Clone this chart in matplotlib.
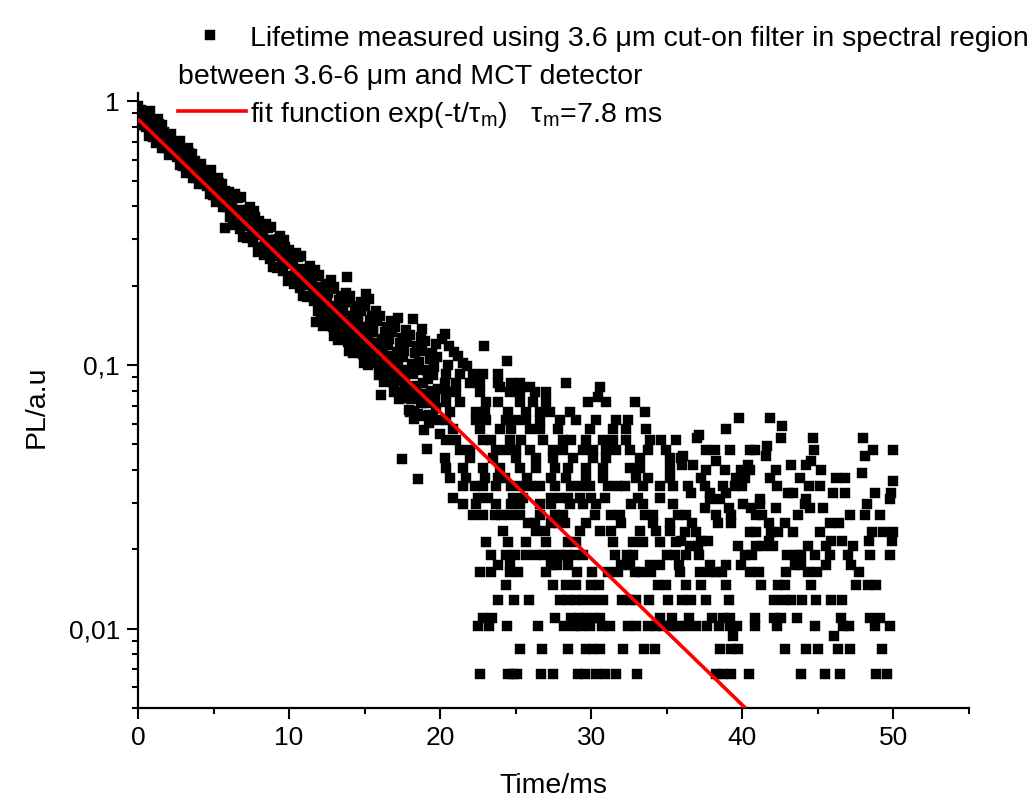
import matplotlib
matplotlib.use("Agg")
import matplotlib.pyplot as plt
from matplotlib.lines import Line2D
from matplotlib.ticker import FixedLocator, LogLocator, NullFormatter

plt.rcParams['font.family'] = ['Liberation Sans', 'DejaVu Sans']

# dense part of the decay, 0-20 ms
band_t = [0.00, 0.12, 0.25, 0.38, 0.50, 0.62, 0.75, 0.88,
          1.00, 1.12, 1.25, 1.38, 1.50, 1.62, 1.75, 1.88,
          2.00, 2.12, 2.25, 2.38, 2.50, 2.62, 2.75, 2.88,
          3.00, 3.12, 3.25, 3.38, 3.50, 3.62, 3.75, 3.88,
          4.00, 4.12, 4.25, 4.38, 4.50, 4.62, 4.75, 4.88,
          5.00, 5.12, 5.25, 5.38, 5.50, 5.62, 5.75, 5.88,
          6.00, 6.12, 6.25, 6.38, 6.50, 6.62, 6.75, 6.88,
          7.00, 7.12, 7.25, 7.38, 7.50, 7.62, 7.75, 7.88,
          8.00, 8.12, 8.25, 8.38, 8.50, 8.62, 8.75, 8.88,
          9.00, 9.12, 9.25, 9.38, 9.50, 9.62, 9.75, 9.88,
          10.00, 10.12, 10.25, 10.38, 10.50, 10.62, 10.75, 10.88,
          11.00, 11.12, 11.25, 11.38, 11.50, 11.62, 11.75, 11.88,
          12.00, 12.08, 12.16, 12.25, 12.33, 12.42,
          12.50, 12.58, 12.66, 12.75, 12.83, 12.92,
          13.00, 13.08, 13.16, 13.25, 13.33, 13.42,
          13.50, 13.58, 13.66, 13.75, 13.83, 13.92,
          14.00, 14.08, 14.16, 14.25, 14.33, 14.42,
          14.50, 14.58, 14.66, 14.75, 14.83, 14.92,
          15.00, 15.08, 15.16, 15.25, 15.33, 15.42,
          15.50, 15.58, 15.66, 15.75, 15.83, 15.92,
          16.00, 16.08, 16.16, 16.25, 16.33, 16.42,
          16.50, 16.58, 16.66, 16.75, 16.83, 16.92,
          17.00, 17.08, 17.16, 17.25, 17.33, 17.42,
          17.50, 17.58, 17.66, 17.75, 17.83, 17.92,
          18.00, 18.08, 18.16, 18.25, 18.33, 18.42,
          18.50, 18.58, 18.66, 18.75, 18.83, 18.92,
          19.00, 19.08, 19.16, 19.25, 19.33, 19.42,
          19.50, 19.58, 19.66, 19.75, 19.83, 19.92]
band_pl = [0.960, 0.824, 0.888, 0.815, 0.841, 0.908, 0.742, 0.838,
           0.736, 0.813, 0.746, 0.823, 0.757, 0.664, 0.767, 0.688,
           0.743, 0.637, 0.687, 0.630, 0.650, 0.702, 0.574, 0.648,
           0.569, 0.628, 0.576, 0.636, 0.585, 0.514, 0.593, 0.532,
           0.574, 0.493, 0.531, 0.487, 0.503, 0.543, 0.444, 0.501,
           0.440, 0.486, 0.446, 0.492, 0.452, 0.397, 0.458, 0.411,
           0.455, 0.364, 0.411, 0.368, 0.380, 0.429, 0.328, 0.387,
           0.341, 0.385, 0.337, 0.398, 0.358, 0.294, 0.363, 0.318,
           0.351, 0.281, 0.318, 0.285, 0.294, 0.332, 0.253, 0.299,
           0.264, 0.297, 0.260, 0.308, 0.277, 0.227, 0.281, 0.246,
           0.272, 0.218, 0.246, 0.220, 0.227, 0.257, 0.196, 0.232,
           0.204, 0.230, 0.201, 0.238, 0.214, 0.175, 0.217, 0.190,
           0.220, 0.158, 0.188, 0.141, 0.197, 0.165,
           0.143, 0.187, 0.157, 0.210, 0.165, 0.139,
           0.198, 0.139, 0.168, 0.124, 0.176, 0.147,
           0.126, 0.167, 0.139, 0.188, 0.146, 0.122,
           0.182, 0.126, 0.153, 0.111, 0.161, 0.133,
           0.114, 0.152, 0.126, 0.173, 0.133, 0.110,
           0.167, 0.114, 0.140, 0.100, 0.148, 0.121,
           0.102, 0.139, 0.114, 0.160, 0.121, 0.0998,
           0.153, 0.0994, 0.125, 0.0863, 0.134, 0.107,
           0.0887, 0.126, 0.101, 0.147, 0.108, 0.0865,
           0.140, 0.0867, 0.112, 0.0741, 0.121, 0.0948,
           0.0767, 0.113, 0.0890, 0.136, 0.0960, 0.0751,
           0.130, 0.0745, 0.101, 0.0623, 0.111, 0.0834,
           0.0652, 0.103, 0.0778, 0.128, 0.0855, 0.0642,
           0.123, 0.0715, 0.0959, 0.0601, 0.105, 0.0796,
           0.0627, 0.098, 0.0744, 0.120, 0.0814, 0.0616]

# more points from the same band (the band is solid black in the original)
band2_t = [0.06, 0.19, 0.31, 0.44, 0.56, 0.69, 0.81, 0.94,
           1.06, 1.19, 1.31, 1.44, 1.56, 1.69, 1.81, 1.94,
           2.06, 2.19, 2.31, 2.44, 2.56, 2.69, 2.81, 2.94,
           3.06, 3.19, 3.31, 3.44, 3.56, 3.69, 3.81, 3.94,
           4.06, 4.19, 4.31, 4.44, 4.56, 4.69, 4.81, 4.94,
           5.06, 5.19, 5.31, 5.44, 5.56, 5.69, 5.81, 5.94,
           6.06, 6.19, 6.31, 6.44, 6.56, 6.69, 6.81, 6.94,
           7.06, 7.19, 7.31, 7.44, 7.56, 7.69, 7.81, 7.94,
           8.06, 8.19, 8.31, 8.44, 8.56, 8.69, 8.81, 8.94,
           9.06, 9.19, 9.31, 9.44, 9.56, 9.69, 9.81, 9.94,
           10.06, 10.19, 10.31, 10.44, 10.56, 10.69, 10.81, 10.94,
           11.06, 11.19, 11.31, 11.44, 11.56, 11.69, 11.81, 11.94,
           12.04, 12.20, 12.29, 12.46, 12.54, 12.70, 12.79, 12.96,
           13.04, 13.20, 13.29, 13.46, 13.54, 13.70, 13.79, 13.96,
           14.04, 14.20, 14.29, 14.46, 14.54, 14.70, 14.79, 14.96,
           15.04, 15.20, 15.29, 15.46, 15.54, 15.70, 15.79, 15.96,
           16.04, 16.20, 16.29, 16.46, 16.54, 16.70, 16.79, 16.96,
           17.04, 17.20, 17.29, 17.46, 17.54, 17.70, 17.79, 17.96,
           18.04, 18.20, 18.29, 18.46, 18.54, 18.70, 18.79, 18.96,
           19.04, 19.20, 19.29, 19.46, 19.54, 19.70, 19.79, 19.96]
band2_pl = [0.811, 0.930, 0.851, 0.887, 0.797, 0.840, 0.918, 0.741,
            0.791, 0.694, 0.860, 0.712, 0.813, 0.689, 0.663, 0.731,
            0.627, 0.750, 0.658, 0.686, 0.616, 0.650, 0.710, 0.573,
            0.611, 0.536, 0.665, 0.550, 0.629, 0.533, 0.513, 0.566,
            0.485, 0.580, 0.509, 0.530, 0.476, 0.502, 0.548, 0.443,
            0.473, 0.415, 0.514, 0.425, 0.486, 0.412, 0.396, 0.437,
            0.402, 0.429, 0.339, 0.445, 0.356, 0.383, 0.434, 0.305,
            0.370, 0.303, 0.388, 0.340, 0.310, 0.384, 0.333, 0.269,
            0.311, 0.331, 0.262, 0.344, 0.275, 0.297, 0.335, 0.236,
            0.286, 0.234, 0.300, 0.263, 0.240, 0.297, 0.257, 0.208,
            0.241, 0.257, 0.203, 0.266, 0.213, 0.229, 0.259, 0.183,
            0.221, 0.181, 0.232, 0.203, 0.185, 0.229, 0.198, 0.161,
            0.166, 0.178, 0.147, 0.203, 0.179, 0.149, 0.195, 0.129,
            0.147, 0.159, 0.129, 0.182, 0.160, 0.132, 0.174, 0.113,
            0.133, 0.145, 0.117, 0.167, 0.146, 0.120, 0.160, 0.102,
            0.121, 0.132, 0.105, 0.153, 0.133, 0.108, 0.147, 0.0915,
            0.106, 0.117, 0.0911, 0.140, 0.119, 0.0946, 0.134, 0.0787,
            0.0930, 0.104, 0.0788, 0.127, 0.107, 0.0827, 0.122, 0.0676,
            0.0809, 0.0928, 0.0670, 0.118, 0.0960, 0.0715, 0.113, 0.0568,
            0.0776, 0.0884, 0.0644, 0.111, 0.0913, 0.0686, 0.107, 0.0548]

# stray points off the band
stray_t = [5.75, 11.8, 13.8, 15.1, 15.3, 17.2, 18.2, 18.8, 20.3, 16.1, 18.0,
           17.5, 18.5, 19.1, 20.1, 20.6, 20.9, 21.2, 21.5, 22.9, 24.4, 20.5, 21.8]
stray_pl = [0.33, 0.145, 0.215, 0.186, 0.178, 0.151, 0.149, 0.137, 0.131, 0.077, 0.0665,
            0.044, 0.037, 0.048, 0.125, 0.118, 0.112, 0.108, 0.102, 0.118, 0.104, 0.100, 0.099]

# tail after ~20 ms: signal is digitised, points sit on discrete levels
tail_levels = [0.0067, 0.0084, 0.0094, 0.0102, 0.0110, 0.0128, 0.0146, 0.0164, 0.0175, 0.0191,
               0.0213, 0.0235, 0.0252, 0.0271, 0.0296, 0.0313, 0.0347, 0.0372, 0.0406, 0.0443,
               0.0476, 0.0521, 0.0571, 0.0620, 0.0662, 0.0724, 0.0755, 0.0790, 0.0822, 0.0858,
               0.0927,
               0.0632, 0.0589, 0.0570, 0.0542, 0.0529, 0.0494, 0.0476, 0.0450, 0.0433, 0.0417,
               0.0399, 0.0389, 0.0372, 0.0362, 0.0347, 0.0328, 0.0310, 0.0296, 0.0287, 0.0270,
               0.0251, 0.0233, 0.0215, 0.0206]
tail_times = [
    [22.62, 24.49, 24.82, 25.08, 26.69, 27.47, 29.12, 29.56, 30.33, 30.88, 31.65, 33.02,
     38.23, 38.72, 39.27, 40.44, 43.9, 45.44, 46.43, 48.86, 49.56],
    [25.3, 26.76, 28.46, 29.63, 30.11, 30.6, 32.1, 33.5, 34.21, 38.5, 39.27, 39.71,
     42.79, 44.18, 44.99, 46.32, 47.14, 49.23],
    [39.38, 46.04],
    [22.5, 23.23, 24.42, 26.47, 28.17, 28.83, 29.34, 29.89, 30.71, 31.21, 32.43, 32.98,
     33.75, 34.26, 34.74, 35.18, 35.67, 36.28, 36.91, 37.66, 38.45, 39.16, 39.64, 40.81,
     42.31, 44.78, 46.65, 47.03, 48.79, 49.74],
    [22.84, 23.45, 27.58, 28.68, 29.18, 29.67, 30.15, 30.6, 34.56, 35.34, 36.5, 37.99,
     38.72, 39.2, 40.81, 42.07, 42.57, 43.61, 46.5, 48.46, 49.12],
    [23.83, 24.86, 25.86, 27.95, 28.46, 28.9, 29.45, 30.11, 30.77, 32.05, 32.54, 32.98,
     33.79, 35.07, 36.02, 36.62, 37.57, 39.11, 42.07, 42.73, 43.24, 43.96, 44.89, 45.88, 46.61],
    [24.33, 27.47, 28.3, 28.96, 30.0, 30.51, 34.41, 34.96, 36.28, 37.28, 38.89, 41.25,
     42.35, 42.79, 44.56, 47.53, 48.31, 48.86],
    [22.62, 23.34, 24.64, 25.15, 27.02, 29.05, 30.07, 31.1, 31.76, 32.87, 33.31, 33.97,
     35.84, 37.17, 37.83, 38.23, 38.67, 40.48, 41.1, 42.86, 44.34, 44.93, 47.71],
    [23.83, 24.6, 27.36, 27.73, 28.46, 31.98, 32.54, 33.9, 34.56, 35.8, 37.88, 38.94,
     39.93, 43.46, 43.9, 45.51, 47.2],
    [23.39, 24.38, 24.93, 25.66, 26.36, 26.85, 27.36, 27.9, 28.39, 28.83, 29.45, 31.54,
     32.36, 32.76, 35.03, 35.51, 36.28, 37.13, 40.15, 40.66, 42.95, 43.57, 43.9, 44.84,
     45.81, 46.98, 48.42, 49.78],
    [23.06, 24.49, 25.7, 27.02, 28.46, 29.01, 31.43, 32.76, 33.42, 34.52, 35.62],
    [24.16, 26.36, 26.91, 29.23, 30.55, 31.32, 33.2, 34.3, 35.18],
    [25.81, 26.25, 27.36, 27.8, 28.24, 29.67, 31.98, 34.08, 35.18],
    [22.17, 22.84, 23.61, 24.05, 24.6, 25.26, 26.58, 27.58, 28.13, 30.22, 31.32, 31.87,
     33.53, 34.08, 35.73],
    [21.51, 22.4, 23.72, 24.71, 25.26, 26.58, 27.36, 28.57, 29.45, 30.33, 32.65, 33.42, 35.4],
    [20.85, 22.5, 23.17, 24.82, 25.48, 27.36, 27.9, 28.46, 29.23, 30.0, 30.88, 33.09, 34.52],
    [21.51, 22.28, 22.84, 23.72, 24.71, 25.37, 26.03, 26.58, 27.58, 28.68, 29.34, 29.89,
     31.1, 31.76, 32.2, 33.42, 34.52, 35.4],
    [20.63, 21.73, 22.95, 23.83, 24.27, 25.75, 27.36, 28.35, 29.67, 30.77, 32.98, 33.75, 35.18],
    [20.41, 21.51, 22.84, 23.94, 25.26, 26.36, 27.58, 28.46, 29.67, 30.77, 32.54, 33.2, 35.18],
    [20.3, 21.95, 23.5, 25.04, 26.36, 27.47, 28.79, 30.11, 30.99, 33.2, 35.18, 35.95],
    [21.29, 21.95, 23.72, 24.38, 25.04, 25.92, 27.47, 28.13, 29.45, 30.11, 30.99, 31.65,
     32.54, 33.75, 34.96],
    [20.41, 21.07, 22.84, 23.39, 24.6, 25.37, 26.8, 28.13, 28.68, 29.67, 30.77, 31.43,
     32.32, 33.86, 34.63, 35.62],
    [20.85, 22.62, 23.94, 24.71, 25.92, 26.58, 27.8, 29.89, 31.43, 32.32, 33.64],
    [20.41, 22.4, 23.06, 24.38, 25.04, 25.7, 26.58, 27.9, 29.01, 30.33, 31.65, 32.43],
    [20.63, 22.4, 22.95, 24.49, 25.7, 26.58, 27.25, 28.57, 33.53],
    [20.41, 21.29, 23.06, 23.83, 25.26, 26.14, 27.02, 29.78, 30.99, 32.87],
    [30.44],
    [20.41, 21.07, 22.62, 24.6, 25.26, 26.25, 27.02],
    [23.94, 25.26, 25.92, 30.55],
    [20.3, 21.07, 21.95, 22.62, 23.83, 24.71, 25.26, 28.3],
    [20.41, 21.29, 22.17, 22.84, 23.83],
    # 36-50 ms, upper part
    [39.77, 41.8],
    [42.64],
    [38.89],
    [37.13],
    [37.0, 42.57, 44.67, 47.98],
    [41.63],
    [37.57, 38.17, 39.2, 40.52, 40.81, 44.71, 48.64, 49.96],
    [36.07, 41.58, 48.09],
    [38.28, 44.56],
    [36.03, 36.73, 40.37, 43.24, 44.18],
    [37.61, 38.83, 39.93, 40.48, 42.2, 45.22],
    [47.93],
    [37.28, 39.6, 40.15, 41.8, 43.83, 46.21, 46.76],
    [49.96],
    [36.4, 37.5, 38.72, 39.49, 39.99, 42.29, 44.4, 45.11],
    [36.62, 37.88, 38.94, 43.02, 43.35, 45.99, 46.81, 48.75, 49.85],
    [37.83, 38.5, 41.19, 44.23, 49.78],
    [40.04, 41.14, 44.12, 48.24],
    [37.5, 39.11, 40.59, 42.2, 44.49, 45.37],
    [36.25, 38.23, 39.27, 40.92, 41.32, 43.68, 47.14, 48.13, 49.08],
    [36.69, 38.39, 39.27, 41.76, 42.79, 45.77, 46.39],
    [36.18, 36.91, 40.52, 40.88, 41.91, 42.35, 43.35, 45.11, 48.59, 49.34, 49.96],
    [35.96, 37.28, 37.72, 41.76, 45.88, 46.59, 48.37, 49.92],
    [36.51, 37.06, 39.71, 40.92, 41.36, 42.02, 44.34, 45.55, 47.31],
]

# fit exp(-t/tau), tau = 7.8 ms : straight on the log axis, two end points
fit_t = [0.0, 40.2]
fit_pl = [0.856, 0.005]

W, H = 1033, 805
fig = plt.figure(figsize=(W / 100, H / 100), dpi=100)
ax = fig.add_axes([138 / W, 1 - 708 / H, 831 / W, 615.4 / H])

tail_t = []
tail_pl = []
for lvl, ts in zip(tail_levels, tail_times):
    tail_t.extend(ts)
    tail_pl.extend([lvl] * len(ts))

pts_t = band_t + band2_t + stray_t + tail_t
pts_pl = band_pl + band2_pl + stray_pl + tail_pl
msize = 6.8
ax.plot(pts_t, pts_pl, 's', color='black', ms=msize, mew=0.3, mec='black', zorder=2)
ax.plot(fit_t, fit_pl, '-', color='#ff0000', lw=2.6, zorder=3, solid_capstyle='butt')

ax.set_yscale('log')
ax.set_xlim(0, 55)
ax.set_ylim(0.005, 1.08)

ax.spines['top'].set_visible(False)
ax.spines['right'].set_visible(False)
for s in ('left', 'bottom'):
    ax.spines[s].set_linewidth(1.6)

ax.set_xticks([0, 10, 20, 30, 40, 50])
ax.xaxis.set_minor_locator(FixedLocator([5, 15, 25, 35, 45, 55]))
ax.set_yticks([0.01, 0.1, 1])
ax.set_yticklabels(['0,01', '0,1', '1'])
ax.yaxis.set_minor_locator(LogLocator(base=10, subs=range(2, 10)))
ax.yaxis.set_minor_formatter(NullFormatter())

ax.tick_params(which='major', direction='out', length=8, width=1.5, labelsize=19, pad=5)
ax.tick_params(which='minor', direction='out', length=4.5, width=1.5)

ax.set_xlabel('Time/ms', fontsize=20.5)
ax.set_ylabel('PL/a.u', fontsize=20.5)
ax.xaxis.set_label_coords(0.5, -0.106)
ax.yaxis.set_label_coords(-0.106, 0.49)

# legend, laid out like the original (second line of the first entry wraps to the left)
fs = 20.5
fig.add_artist(Line2D([210 / W], [1 - 35 / H], marker='s', ms=msize, mew=0.3, color='black',
                      transform=fig.transFigure))
fig.text(250 / W, 1 - 45.5 / H, 'Lifetime measured using 3.6 \u03bcm cut-on filter in spectral region',
         fontsize=fs, va='baseline', ha='left')
fig.text(178 / W, 1 - 83.5 / H, 'between 3.6-6 \u03bcm and MCT detector',
         fontsize=fs, va='baseline', ha='left')
fig.add_artist(Line2D([178 / W, 246 / W], [1 - 111 / H, 1 - 111 / H], color='#ff0000', lw=2.6,
                      transform=fig.transFigure))
fig.text(250 / W, 1 - 121.5 / H,
         'fit function exp(-t/$\\mathregular{\u03c4_m}$)   $\\mathregular{\u03c4_m}$=7.8 ms',
         fontsize=fs, va='baseline', ha='left')

fig.savefig('out.png', dpi=100)
